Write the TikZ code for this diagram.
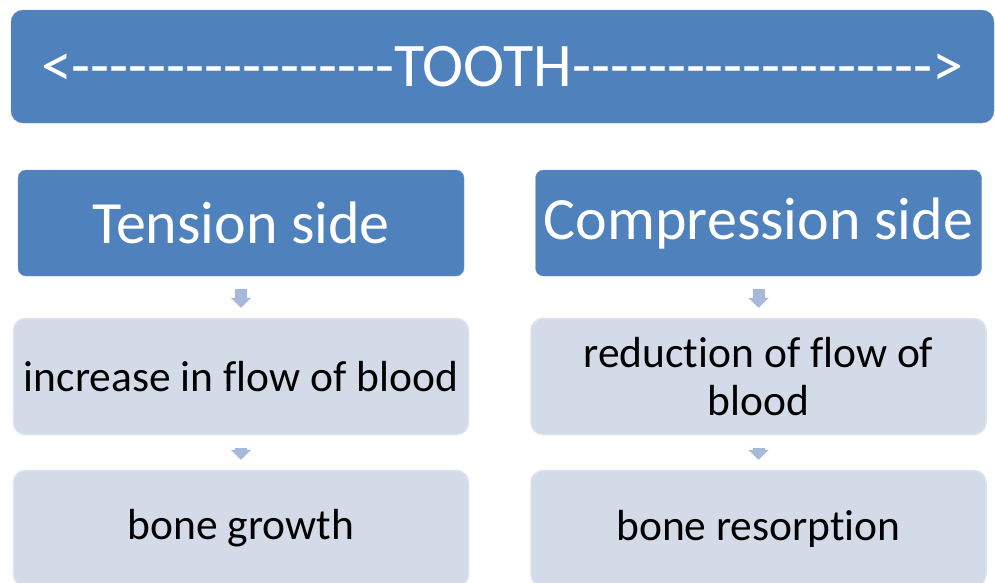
\documentclass[tikz,border=0pt]{standalone}
\usepackage{fontspec}
\setmainfont{Carlito}[Ligatures={TeXOff,NoCommon}]
\usetikzlibrary{arrows.meta,positioning}
\definecolor{headblue}{HTML}{4F81BD}
\definecolor{paleblue}{HTML}{D3DBE9}
\definecolor{arrowblue}{HTML}{A7B9DA}
\definecolor{edgeblue}{HTML}{DDE3EE}

\begin{document}
\begin{tikzpicture}[
    x=1pt, y=-1pt,
    banner/.style={draw=headblue!80!white, fill=headblue, text=white, rounded corners=12pt,
        minimum width=983pt, minimum height=113pt, font=\fontsize{62}{74}\selectfont},
    side/.style={draw=headblue!80!white, fill=headblue, text=white, rounded corners=8pt,
        minimum width=446pt, minimum height=106pt, font=\fontsize{60}{70}\selectfont},
    effect/.style={draw=edgeblue, line width=1.5pt, fill=paleblue, text=black, rounded corners=12pt,
        minimum width=455pt, minimum height=116pt, align=center, font=\fontsize{43.5}{48}\selectfont},
    flow/.style={draw=arrowblue, line width=12pt, -{Triangle[length=10pt,width=20pt]},
        shorten <=13pt, shorten >=10pt},
]
    \clip (0,0) rectangle (995,582);

    % Tooth banner
    \node[banner] (tooth) at (502.5, 66.5) {<-----------------TOOTH------------------->};

    % Sides
    \node[side] (tension) at (241, 223) {Tension side};
    \node[side] (compression) at (758.5, 223) {Compression side};

    % Blood flow
    \node[effect] (flowT) at (241, 376.5) {increase in flow of blood};
    \node[effect] (flowC) at (758.5, 376.5) {reduction of flow of\\blood};

    % Bone response
    \node[effect] (growth) at (241, 528.5) {bone growth};
    \node[effect] (resorption) at (758.5, 528.5) {bone resorption};

    \draw[flow] (tension) -- (flowT);
    \draw[flow] (compression) -- (flowC);
    \draw[flow] (flowT) -- (growth);
    \draw[flow] (flowC) -- (resorption);
\end{tikzpicture}
\end{document}
